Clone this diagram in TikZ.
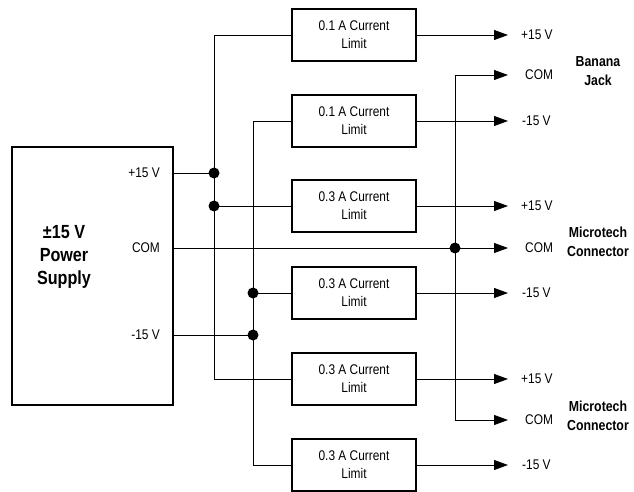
\documentclass[tikz,border=0pt]{standalone}
\usepackage{fontspec}
\setmainfont{Liberation Sans}[FakeStretch=0.85]
\usetikzlibrary{arrows.meta}
\begin{document}
\begin{tikzpicture}[x=1pt,y=-1pt,
  wire/.style={line width=0.9pt},
  arr/.style={wire,-{Triangle[length=14pt,width=10pt]}},
  limbox/.style={draw,line width=1.4pt,minimum width=124pt,minimum height=52pt,
    inner sep=0pt,align=center,font=\fontsize{14}{18}\selectfont},
  lbl/.style={font=\fontsize{14}{18}\selectfont,inner sep=0pt},
  blbl/.style={font=\fontsize{14.5}{19}\selectfont\bfseries,inner sep=0pt,align=center},
  dot/.style={circle,fill=black,inner sep=0pt,minimum size=11pt}]
\useasboundingbox (0,0) rectangle (634,492);
% power supply
\node[draw,line width=1.4pt,minimum width=161pt,minimum height=258pt,inner sep=0pt] (ps) at (92.5,276) {};
\node[blbl,font=\fontsize{19}{23}\selectfont\bfseries] (pstext) at (64,257) {±15 V\\Power\\Supply};
\node[lbl,anchor=east] (lp) at (160,173) {+15 V};
\node[lbl,anchor=east] (lc) at (160,248) {COM};
\node[lbl,anchor=east] (lm) at (160,335) {-15 V};
\coordinate (pp) at (173,173);
\coordinate (pc) at (173,248);
\coordinate (pm) at (173,335);
% limit boxes
\node[limbox] (b1) at (354,35) {0.1 A Current\\Limit};
\node[limbox] (b2) at (354,121) {0.1 A Current\\Limit};
\node[limbox] (b3) at (354,206) {0.3 A Current\\Limit};
\node[limbox] (b4) at (354,293) {0.3 A Current\\Limit};
\node[limbox] (b5) at (354,379) {0.3 A Current\\Limit};
\node[limbox] (b6) at (354,465) {0.3 A Current\\Limit};
% bus coordinates
\coordinate (p1) at (214,35);
\coordinate (pd1) at (214,173);
\coordinate (pd2) at (214,206);
\coordinate (p5) at (214,379);
\coordinate (m2) at (253,121);
\coordinate (md1) at (253,293);
\coordinate (md2) at (253,335);
\coordinate (m6) at (253,465);
\coordinate (cd) at (455,248);
\coordinate (ct) at (455,75);
\coordinate (cb) at (455,420);
% output end points
\coordinate (o1) at (508,35);
\coordinate (oc1) at (508,75);
\coordinate (o2) at (508,121);
\coordinate (o3) at (508,206);
\coordinate (oc2) at (508,248);
\coordinate (o4) at (508,293);
\coordinate (o5) at (508,379);
\coordinate (oc3) at (508,420);
\coordinate (o6) at (508,465);
% +15 bus
\draw[wire] (pp) -- (pd1);
\draw[wire] (b1.west) -- (p1) -- (p5) -- (b5.west);
\draw[wire] (pd2) -- (b3.west);
% -15 bus
\draw[wire] (pm) -- (md2);
\draw[wire] (b2.west) -- (m2) -- (m6) -- (b6.west);
\draw[wire] (md1) -- (b4.west);
% COM
\draw[arr] (pc) -- (oc2);
\draw[wire] (ct) -- (cb);
\draw[arr] (ct) -- (oc1);
\draw[arr] (cb) -- (oc3);
% outputs
\draw[arr] (b1.east) -- (o1);
\draw[arr] (b2.east) -- (o2);
\draw[arr] (b3.east) -- (o3);
\draw[arr] (b4.east) -- (o4);
\draw[arr] (b5.east) -- (o5);
\draw[arr] (b6.east) -- (o6);
% dots
\node[dot] (d1) at (pd1) {};
\node[dot] (d2) at (pd2) {};
\node[dot] (d3) at (md1) {};
\node[dot] (d4) at (md2) {};
\node[dot] (d5) at (cd) {};
% output labels
\node[lbl,anchor=west] (t1) at (521,35) {+15 V};
\node[lbl,anchor=west] (t2) at (525,75) {COM};
\node[lbl,anchor=west] (t3) at (522,121) {-15 V};
\node[lbl,anchor=west] (t4) at (521,206) {+15 V};
\node[lbl,anchor=west] (t5) at (525,248) {COM};
\node[lbl,anchor=west] (t6) at (522,293) {-15 V};
\node[lbl,anchor=west] (t7) at (521,379) {+15 V};
\node[lbl,anchor=west] (t8) at (525,420) {COM};
\node[lbl,anchor=west] (t9) at (522,465) {-15 V};
% group labels
\node[blbl] (g1) at (598,71) {Banana\\Jack};
\node[blbl] (g2) at (598,242) {Microtech\\Connector};
\node[blbl] (g3) at (598,416) {Microtech\\Connector};
\end{tikzpicture}
\end{document}
